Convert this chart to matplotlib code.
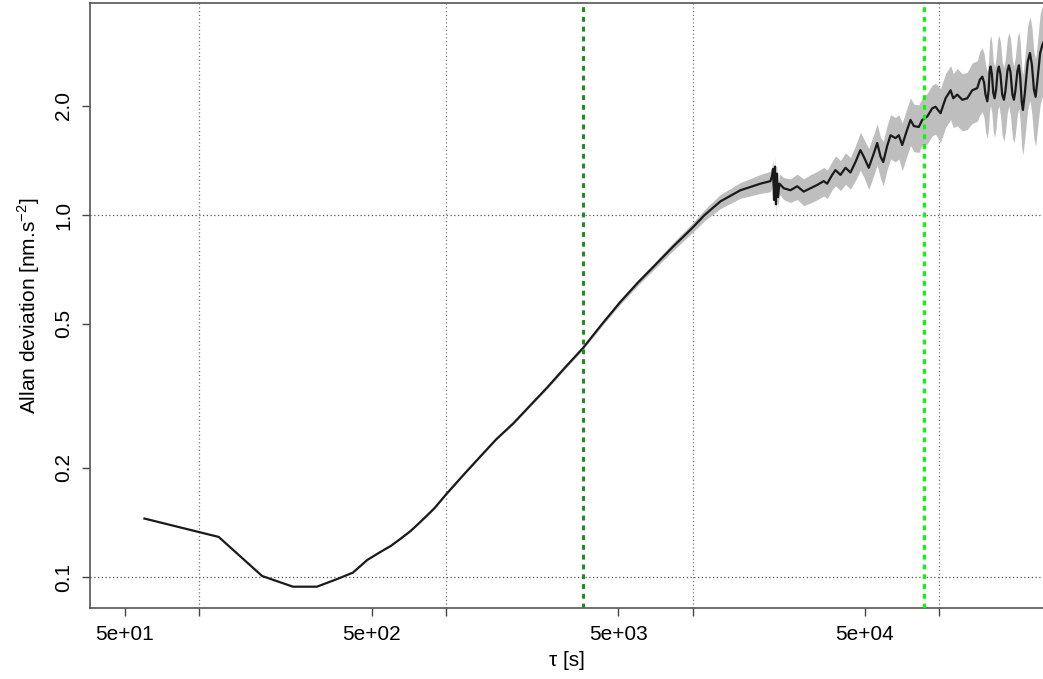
import matplotlib
matplotlib.use("Agg")
import matplotlib.pyplot as plt
import numpy as np

plt.rcParams['font.family'] = ['Liberation Sans', 'DejaVu Sans']
plt.rcParams['mathtext.fontset'] = 'custom'
plt.rcParams['mathtext.rm'] = 'Liberation Sans'

# ---- data ----
tau = [60, 120, 180, 240, 300, 360, 420, 480, 540, 600, 660, 720, 780, 840, 900,
       1009, 1200, 1378, 1600, 1881, 2200, 2568, 3000, 3596, 4300, 5095, 6000,
       6955, 8300, 9950, 11200, 12970, 15630, 18840, 20690,
       21000, 21200, 21400, 21600, 21800, 22000, 22200, 22500,
       23420, 24940, 26550, 28230, 30060, 31990, 34030, 35130, 36810, 37960,
       39780, 41680, 43670, 45760, 47900, 49400, 51800, 54300, 56050, 57800,
       59300, 61500, 63460, 66490, 68570, 70800, 73700, 76480, 78890, 82660,
       85320, 89410, 93670, 96600, 101200, 106100, 111200, 114000, 118300,
       124000, 129900, 136100, 142600,
       146000, 149500, 152000, 154000, 156600, 158500, 160000, 161500, 163500,
       165500, 167700, 170000, 172500, 174500, 177000, 180000, 182900, 185500,
       189000, 191600, 194500, 198000, 200800, 203500, 207500, 210400, 213000,
       216000, 218400, 222000, 228500, 233200, 237500, 242000, 245900, 250000,
       256500, 261800, 267500]
adev = [0.145, 0.129, 0.1006, 0.0940, 0.0940, 0.0985, 0.1028, 0.1114, 0.117, 0.122,
        0.128, 0.134, 0.141, 0.148, 0.155,
        0.170, 0.194, 0.215, 0.240, 0.266, 0.298, 0.333, 0.375, 0.429, 0.500,
        0.575, 0.650, 0.720, 0.815, 0.919, 1.00, 1.09, 1.17, 1.22, 1.24,
        1.28, 1.34, 1.10, 1.36, 1.07, 1.30, 1.12, 1.22,
        1.185, 1.17, 1.20, 1.16, 1.185, 1.21, 1.24, 1.22, 1.29, 1.33,
        1.29, 1.35, 1.31, 1.40, 1.51, 1.45, 1.35, 1.48, 1.58, 1.45,
        1.40, 1.55, 1.66, 1.63, 1.66, 1.56, 1.70, 1.83, 1.76, 1.75,
        1.83, 1.87, 1.97, 1.99, 1.91, 2.10, 2.21, 2.10, 2.15,
        2.08, 2.10, 2.21, 2.24,
        2.36, 2.41, 2.32, 2.15, 2.06, 2.20, 2.48, 2.57, 2.45,
        2.18, 2.10, 2.22, 2.50, 2.57, 2.45, 2.15, 2.08, 2.20,
        2.50, 2.59, 2.48, 2.15, 2.08, 2.20, 2.50, 2.59, 2.40,
        2.05, 1.95, 2.15, 2.65, 2.80, 2.60, 2.22, 2.12, 2.35,
        2.80, 2.95, 3.05]
rel_err = [0, 0, 0, 0, 0, 0, 0, 0.002, 0.002, 0.002, 0.003, 0.003, 0.003, 0.003, 0.003,
           0.004, 0.004, 0.005, 0.005, 0.006, 0.007, 0.008, 0.009, 0.010, 0.012,
           0.015, 0.018, 0.02, 0.025, 0.03, 0.035, 0.045, 0.05, 0.06, 0.065,
           0.065, 0.065, 0.065, 0.065, 0.065, 0.065, 0.065, 0.065,
           0.07, 0.075, 0.08, 0.085, 0.09, 0.09, 0.09, 0.09, 0.09, 0.095,
           0.095, 0.10, 0.10, 0.11, 0.12, 0.12, 0.13, 0.13, 0.13, 0.13,
           0.14, 0.14, 0.14, 0.14, 0.14, 0.15, 0.15, 0.15, 0.15, 0.15,
           0.15, 0.16, 0.16, 0.16, 0.17, 0.17, 0.17, 0.17, 0.18,
           0.18, 0.18, 0.19, 0.19,
           0.20, 0.20, 0.20, 0.21, 0.21, 0.21, 0.22, 0.22, 0.22,
           0.22, 0.22, 0.22, 0.22, 0.22, 0.23, 0.23, 0.23, 0.23,
           0.23, 0.23, 0.24, 0.24, 0.24, 0.24, 0.24, 0.24, 0.25,
           0.25, 0.25, 0.25, 0.26, 0.26, 0.27, 0.27, 0.27, 0.27,
           0.28, 0.28, 0.28]

x_ticks = [50, 100, 500, 1000, 5000, 10000, 50000, 100000]
x_ticklabels = ['5e+01', '', '5e+02', '', '5e+03', '', '5e+04', '']
y_ticks = [0.1, 0.2, 0.5, 1.0, 2.0]
y_ticklabels = ['0.1', '0.2', '0.5', '1.0', '2.0']
x_grid = [100, 1000, 10000, 100000]
y_grid = [0.1, 1.0]
tau_hour = 3600
tau_day = 86400

# ---- figure ----
fig = plt.figure(figsize=(10.43, 6.79), dpi=100)
ax = fig.add_axes([0.0863, 0.1046, 0.9147, 0.891])
ax.set_xscale('log')
ax.set_yscale('log')
ax.set_xlim(36.1, 266000)
ax.set_ylim(0.0821, 3.85)

t = np.array(tau, dtype=float)
a = np.array(adev)
e = np.array(rel_err)
ax.fill_between(t, a * (1 - e), a * (1 + e), color='#bebebe', lw=0, zorder=2)
ax.plot(t, a, color='#1a1a1a', lw=1.6, zorder=3)

for xg in x_grid:
    ax.axvline(xg, color='#777777', lw=0.9, ls=(0, (1, 2)), zorder=1)
for yg in y_grid:
    ax.axhline(yg, color='#555555', lw=0.9, ls=(0, (1, 2)), zorder=1)

ax.axvline(tau_hour, color='#228B22', lw=2.2, ls=(0, (1.6, 1.6)), zorder=4)
ax.axvline(tau_day, color='#00FF00', lw=2.2, ls=(0, (1.6, 1.6)), zorder=4)

ax.minorticks_off()
ax.set_xticks(x_ticks)
ax.set_xticklabels(x_ticklabels)
ax.set_yticks(y_ticks)
ax.set_yticklabels(y_ticklabels, rotation=90, va='center')
ax.tick_params(axis='both', which='major', length=6, width=1, color='#444444',
               labelsize=15, pad=6)

for s in ['left', 'bottom', 'top']:
    ax.spines[s].set_color('#555555')
    ax.spines[s].set_linewidth(1.2)
ax.spines['right'].set_visible(False)

ax.set_xlabel('τ [s]', fontsize=15, labelpad=5)
ax.set_ylabel(r'Allan deviation [nm.s$^{\mathregular{-2}}$]', fontsize=15, labelpad=9)

fig.savefig('out.png', dpi=100)
